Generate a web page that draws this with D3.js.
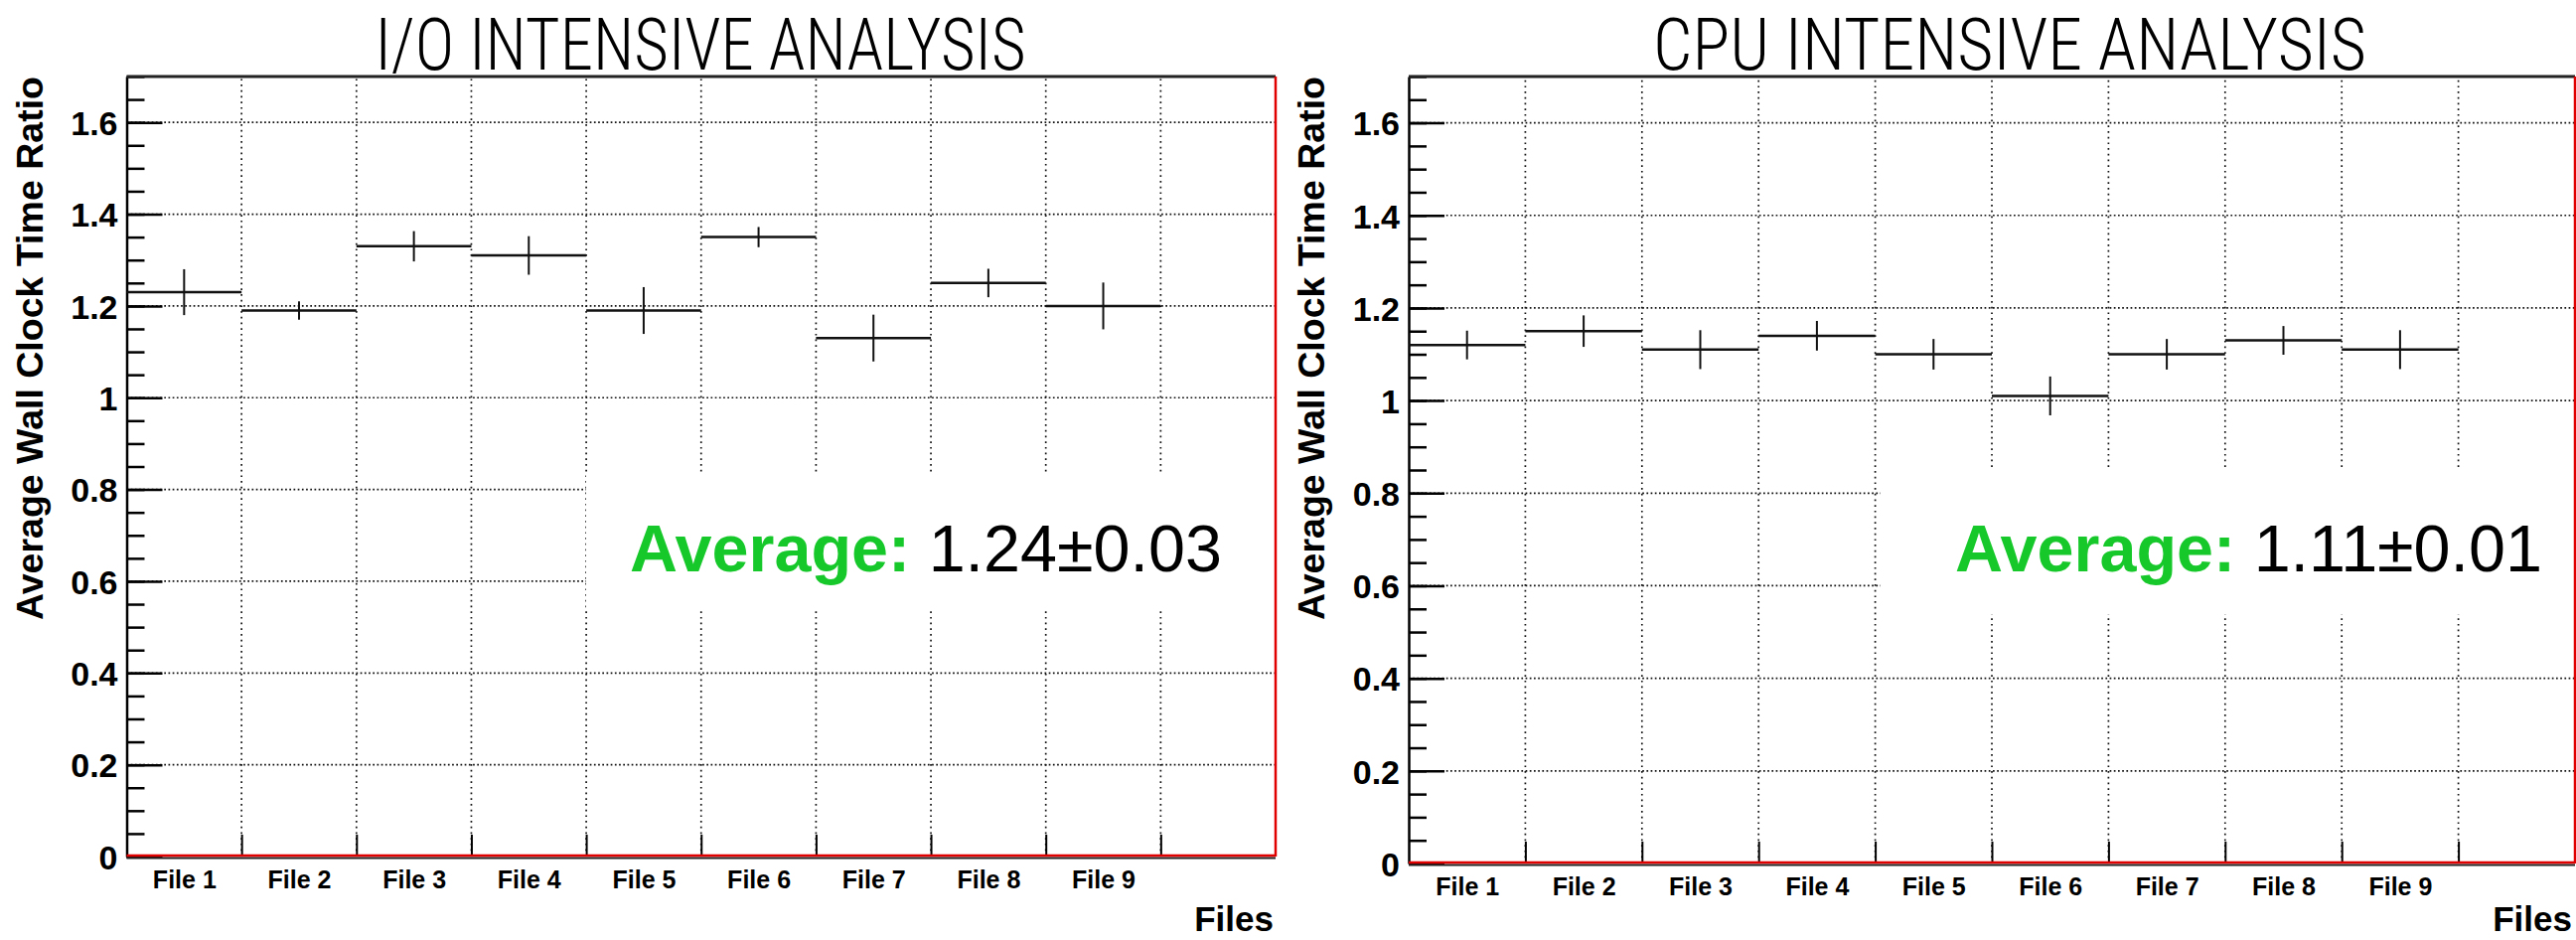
<!DOCTYPE html>
<html>
<head>
<meta charset="utf-8">
<script src="https://cdn.jsdelivr.net/npm/d3@7"></script>
<style>
  body { margin: 0; background: #fff; }
  svg { display: block; }
  .tick text { font-family: 'Liberation Sans', Arial, sans-serif; font-weight: bold; fill: #000; }
</style>
</head>
<body>
<div id="chart"></div>
<script>
const W = 2593, H = 946;

// Data
const files = ['File 1', 'File 2', 'File 3', 'File 4', 'File 5', 'File 6', 'File 7', 'File 8', 'File 9'];
const ioRatio = [1.23, 1.19, 1.33, 1.31, 1.19, 1.35, 1.13, 1.25, 1.20];
const ioError = [0.050, 0.020, 0.033, 0.042, 0.051, 0.022, 0.051, 0.031, 0.051];
const cpuRatio = [1.12, 1.15, 1.11, 1.14, 1.10, 1.01, 1.10, 1.13, 1.11];
const cpuError = [0.031, 0.034, 0.042, 0.032, 0.033, 0.042, 0.033, 0.031, 0.042];
const yTicks = [0, 0.2, 0.4, 0.6, 0.8, 1, 1.2, 1.4, 1.6];
const yTickLabels = ['0', '0.2', '0.4', '0.6', '0.8', '1', '1.2', '1.4', '1.6'];
const titles = ['I/O INTENSIVE ANALYSIS', 'CPU INTENSIVE ANALYSIS'];
const averages = ['1.24\u00b10.03', '1.11\u00b10.01'];

const Y_MAX = 1.7;
const N_BINS = 10;   // 9 files + one empty bin

const panels = [
  { title: titles[0], ratio: ioRatio, error: ioError, average: averages[0],
    left: 127.5, right: 1284, top: 77, bottom: 862,
    titleX: 705, titleLen: 655, avgX: 634, filesY: 937, filesX: 1282,
    box: [590, 475, 700, 139] },
  { title: titles[1], ratio: cpuRatio, error: cpuError, average: averages[1],
    left: 1418, right: 2592, top: 77, bottom: 869,
    titleX: 2023, titleLen: 718, avgX: 1968, filesY: 937, filesX: 2589,
    box: [1893, 474, 700, 144] }
];

const svg = d3.select('#chart')
  .append('svg')
  .attr('width', W)
  .attr('height', H);

svg.append('rect').attr('width', W).attr('height', H).attr('fill', '#fff');

const FONT = "'Liberation Sans', Arial, sans-serif";

panels.forEach(p => {
  const g = svg.append('g');

  const x = d3.scaleLinear().domain([0, N_BINS]).range([p.left, p.right]);
  const y = d3.scaleLinear().domain([0, Y_MAX]).range([p.bottom, p.top]);

  // dotted grid
  g.selectAll('line.hgrid')
    .data(yTicks.slice(1))
    .join('line')
    .attr('class', 'hgrid')
    .attr('x1', p.left).attr('x2', p.right)
    .attr('y1', d => y(d)).attr('y2', d => y(d))
    .attr('stroke', '#111')
    .attr('stroke-width', 1.7)
    .attr('stroke-dasharray', '1.7,2.5');

  g.selectAll('line.vgrid')
    .data(d3.range(1, N_BINS))
    .join('line')
    .attr('class', 'vgrid')
    .attr('x1', d => x(d)).attr('x2', d => x(d))
    .attr('y1', p.bottom).attr('y2', p.top)
    .attr('stroke', '#111')
    .attr('stroke-width', 1.7)
    .attr('stroke-dasharray', '1.7,4');

  // white pave that hides the grid behind the average
  g.append('rect')
    .attr('x', p.box[0]).attr('y', p.box[1])
    .attr('width', p.box[2]).attr('height', p.box[3])
    .attr('fill', '#fff');

  // minor + major y ticks, drawn inward
  const minor = d3.range(0, Y_MAX + 0.001, 0.05);
  g.append('g')
    .attr('transform', `translate(${p.left},0)`)
    .call(d3.axisLeft(y).tickValues(minor).tickSize(-18).tickSizeOuter(0).tickFormat(''))
    .call(a => a.select('.domain').remove())
    .call(a => a.selectAll('line').attr('stroke', '#000').attr('stroke-width', 2.5));

  g.append('g')
    .attr('transform', `translate(${p.left},0)`)
    .call(d3.axisLeft(y).tickValues(yTicks).tickSize(-36).tickSizeOuter(0).tickPadding(9)
      .tickFormat((d, i) => yTickLabels[i]))
    .call(a => a.select('.domain').attr('stroke', '#000').attr('stroke-width', 2.5))
    .call(a => a.selectAll('line').attr('stroke', '#000').attr('stroke-width', 2.5))
    .call(a => a.selectAll('text').attr('font-size', 34).attr('dy', '0.36em'));

  // x ticks at bin edges, pointing up
  g.append('g')
    .attr('transform', `translate(0,${p.bottom})`)
    .call(d3.axisBottom(x).tickValues(d3.range(1, N_BINS)).tickSize(-22).tickSizeOuter(0).tickFormat(''))
    .call(a => a.select('.domain').remove())
    .call(a => a.selectAll('line').attr('stroke', '#000').attr('stroke-width', 2));

  // bin labels
  g.append('g')
    .attr('transform', `translate(0,${p.bottom})`)
    .call(d3.axisBottom(x).tickValues(files.map((f, i) => i + 0.5)).tickSize(0).tickPadding(14)
      .tickFormat((d, i) => files[i]))
    .call(a => a.select('.domain').remove())
    .call(a => a.selectAll('text').attr('font-size', 25));

  // frame: top black, bottom black with red histogram line, right red
  g.append('line')
    .attr('x1', p.left).attr('x2', p.right)
    .attr('y1', p.top).attr('y2', p.top)
    .attr('stroke', '#222').attr('stroke-width', 3);
  g.append('line')
    .attr('x1', p.left).attr('x2', p.right)
    .attr('y1', y(0) + 1.5).attr('y2', y(0) + 1.5)
    .attr('stroke', '#222').attr('stroke-width', 2);
  g.append('line')
    .attr('x1', p.left).attr('x2', p.right)
    .attr('y1', y(0) - 1).attr('y2', y(0) - 1)
    .attr('stroke', '#e00000').attr('stroke-width', 2.5);
  g.append('line')
    .attr('x1', p.right).attr('x2', p.right)
    .attr('y1', p.top).attr('y2', p.bottom)
    .attr('stroke', '#e00000').attr('stroke-width', 2.5);

  // bin contents with error bars
  g.selectAll('line.bin')
    .data(p.ratio)
    .join('line')
    .attr('class', 'bin')
    .attr('x1', (d, i) => x(i)).attr('x2', (d, i) => x(i + 1))
    .attr('y1', d => y(d)).attr('y2', d => y(d))
    .attr('stroke', '#111').attr('stroke-width', 2.5);

  g.selectAll('line.err')
    .data(p.ratio)
    .join('line')
    .attr('class', 'err')
    .attr('x1', (d, i) => x(i + 0.5)).attr('x2', (d, i) => x(i + 0.5))
    .attr('y1', (d, i) => y(d + p.error[i])).attr('y2', (d, i) => y(d - p.error[i]))
    .attr('stroke', '#111').attr('stroke-width', 2);

  // panel title
  svg.append('text')
    .attr('x', p.titleX).attr('y', 70)
    .attr('text-anchor', 'middle')
    .attr('font-family', "'Liberation Sans Narrow', 'Roboto Condensed', 'Liberation Sans', sans-serif")
    .attr('font-weight', 300)
    .attr('font-size', 72)
    .attr('textLength', p.titleLen)
    .attr('lengthAdjust', 'spacingAndGlyphs')
    .text(p.title);

  // axis titles
  svg.append('text')
    .attr('transform', `translate(${p.left - 85},${p.top}) rotate(-90)`)
    .attr('text-anchor', 'end')
    .attr('font-family', FONT)
    .attr('font-weight', 'bold')
    .attr('font-size', 36)
    .attr('textLength', 547)
    .attr('lengthAdjust', 'spacingAndGlyphs')
    .text('Average Wall Clock Time Ratio');

  svg.append('text')
    .attr('x', p.filesX).attr('y', p.filesY)
    .attr('text-anchor', 'end')
    .attr('font-family', FONT)
    .attr('font-weight', 'bold')
    .attr('font-size', 35)
    .text('Files');

  // average annotation
  const avg = svg.append('text')
    .attr('x', p.avgX).attr('y', 575)
    .attr('font-family', FONT)
    .attr('font-size', 66.5);
  avg.append('tspan')
    .attr('font-weight', 'bold')
    .attr('fill', '#16c82a')
    .text('Average: ');
  avg.append('tspan')
    .attr('fill', '#000')
    .text(p.average);
});
</script>
</body>
</html>
